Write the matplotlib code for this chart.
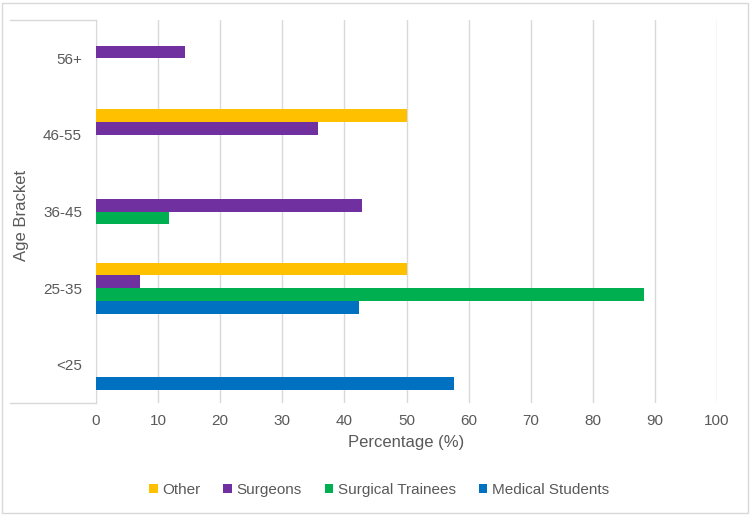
import numpy as np
import matplotlib.pyplot as plt
from matplotlib.patches import Rectangle

# age brackets, bottom to top
brackets = ["<25", "25-35", "36-45", "46-55", "56+"]
series = ["Medical Students", "Surgical Trainees", "Surgeons", "Other"]
colors = ["#0070c0", "#00b050", "#7030a0", "#ffc000"]

medical_students = [57.6, 42.4, 0, 0, 0]
surgical_trainees = [0, 88.2, 11.8, 0, 0]
surgeons = [0, 7.1, 42.9, 35.7, 14.3]
other = [0, 50.0, 0, 50.0, 0]
values = [medical_students, surgical_trainees, surgeons, other]

plt.rcParams['font.family'] = ['Liberation Sans', 'DejaVu Sans']
txt = "#595959"
grid = "#d9d9d9"

fig = plt.figure(figsize=(7.51, 5.15), dpi=100)
ax = fig.add_axes([96/751, 1-403/515, (717-96)/751, (403-20)/515])

y = np.arange(len(brackets))
h = 0.167
for i, (name, vals, c) in enumerate(zip(series, values, colors)):
    ax.barh(y + (i - 1.5) * h, vals, height=h, color=c, label=name, zorder=3)

ax.set_xlim(0, 100)
ax.set_ylim(-0.5, len(brackets) - 0.5)
ax.set_xticks(range(0, 101, 10))
ax.set_yticks(y)
ax.set_yticklabels(brackets)
ax.tick_params(axis='both', length=0, colors=txt, labelsize=11)
ax.tick_params(axis='y', pad=10)
ax.tick_params(axis='x', pad=8)
ax.grid(axis='x', color=grid, linewidth=1, zorder=0)
for s in ['top', 'right', 'bottom']:
    ax.spines[s].set_visible(False)
ax.spines['left'].set_color(grid)

# lines to the left of the category axis at top and bottom
for yy in (0, 1):
    ax.plot([-0.139, 0], [yy, yy], transform=ax.transAxes, color=grid,
            linewidth=1, clip_on=False)

ax.set_xlabel("Percentage (%)", color=txt, fontsize=12, labelpad=5)
fig.text(22/751, 1-215/515, "Age Bracket", rotation=90, color=txt,
         fontsize=12, ha='center', va='center')

handles, labels = ax.get_legend_handles_labels()
fig.legend(handles[::-1], labels[::-1], loc='center', bbox_to_anchor=(379/751, 1-490/515),
           ncol=4, frameon=False, fontsize=11, labelcolor=txt,
           handlelength=0.55, handleheight=0.55, handletextpad=0.3, columnspacing=1.5)

fig.patches.append(Rectangle((2/751, 2/515), 746/751, 510/515, transform=fig.transFigure,
                             fill=False, edgecolor=grid, linewidth=1))

fig.savefig("out.png", dpi=100)
